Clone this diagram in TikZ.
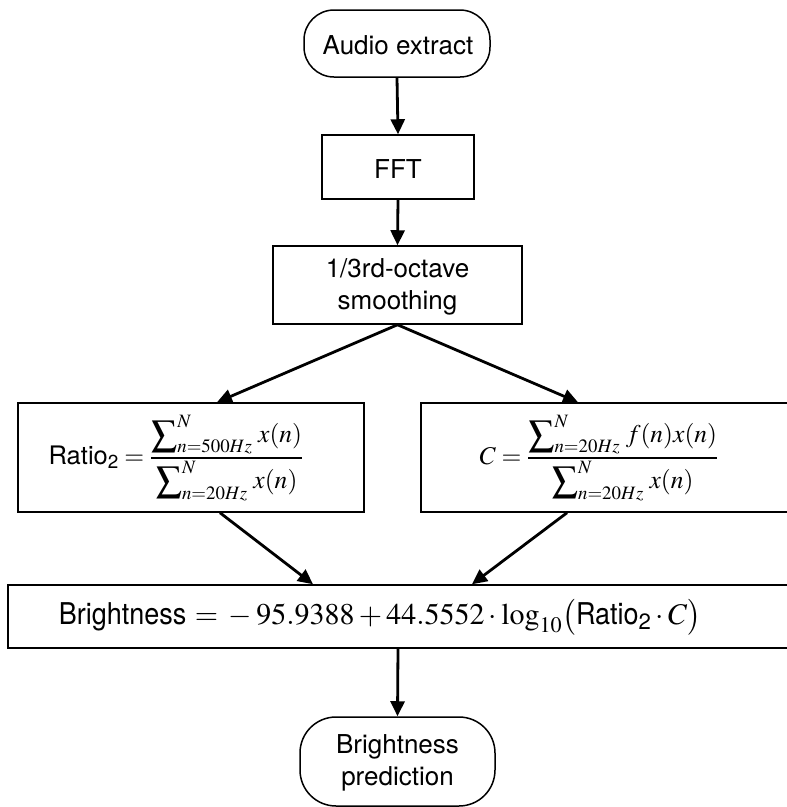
\documentclass[tikz,border=0pt]{standalone}
\usepackage{amsmath}
\usepackage{mathptmx}
\usepackage[no-math]{fontspec}
\setmainfont{TeX Gyre Heros}
\usetikzlibrary{arrows.meta,calc}
\newcommand{\bigsum}{\mathop{\displaystyle\sum\nolimits}}
\tikzset{
  boxline/.style={draw=black, line width=1.5pt, inner sep=0pt, fill=white},
  stepbox/.style={boxline, rectangle, align=center},
  termbox/.style={boxline, rectangle, rounded corners=30pt, align=center},
  flow/.style={line width=2.8pt, -{Triangle[length=15pt,width=14pt]}},
  lbl/.style={inner sep=0pt, font=\fontsize{25.5}{31}\selectfont, align=center}
}
\begin{document}
\begin{tikzpicture}[x=1pt,y=-1pt]
\useasboundingbox (0,0) rectangle (787,807);
\begin{scope}
\clip (0,0) rectangle (787,807);
\node[termbox, minimum width=186pt, minimum height=67pt] (audio) at (397,43.5) {};
\node[lbl, font=\fontsize{26}{31}\selectfont] (audiot) at (398,45) {Audio extract};
\node[stepbox, minimum width=152pt, minimum height=64pt] (fft) at (398,167) {};
\node[lbl, font=\fontsize{26}{31}\selectfont] (fftt) at (398,169) {FFT};
\node[stepbox, minimum width=249pt, minimum height=78pt] (smooth) at (397.5,285) {};
\node[lbl, font=\fontsize{26}{32}\selectfont] (smootht) at (397.5,287) {1/3rd-octave\\smoothing};
\node[stepbox, minimum width=346pt, minimum height=109pt] (lb) at (191,457.5) {};
\node[lbl] (lbt) at (176,458) {$\text{Ratio}_{\text{2}}=\dfrac{\bigsum_{n=500Hz}^{N}\, x(n)}{\bigsum_{n=20Hz}^{N}\, x(n)}$};
\node[stepbox, minimum width=379pt, minimum height=109pt] (rb) at (610.5,457.5) {};
\node[lbl] (rbt) at (599,458) {$C=\dfrac{\bigsum_{n=20Hz}^{N}\, f(n)x(n)}{\bigsum_{n=20Hz}^{N}\, x(n)}$};
\node[stepbox, minimum width=792pt, minimum height=63pt] (br) at (404,616.5) {};
\node[lbl, font=\fontsize{30}{34}\selectfont] (brt) at (380,617) {\scalebox{0.9}[1]{Brightness} $= {}-{} 95.9388 + 44.5552\cdot\log_{10}\bigl(\text{\scalebox{0.9}[1]{Ratio}}_{\text{2}}\cdot C\bigr)$};
\node[termbox, rounded corners=36pt, minimum width=195pt, minimum height=89pt] (pred) at (397.5,761.5) {};
\node[lbl, font=\fontsize{26}{32}\selectfont] (predt) at (397.5,763) {Brightness\\prediction};
\end{scope}
\draw[flow] (audio.south) -- (fft.north);
\draw[flow] (fft.south) -- (smooth.north);
\draw[flow] (smooth.south) -- ($(lb.north)+(26,0)$);
\draw[flow] (smooth.south) -- ($(rb.north)+(-32.5,0)$);
\draw[flow] ($(lb.south)+(29,0)$) -- ($(br.north)+(-91,0)$);
\draw[flow] ($(rb.south)+(-43.5,0)$) -- ($(br.north)+(68,0)$);
\draw[flow] ($(br.south)+(-6,0)$) -- (pred.north);
\end{tikzpicture}
\end{document}
